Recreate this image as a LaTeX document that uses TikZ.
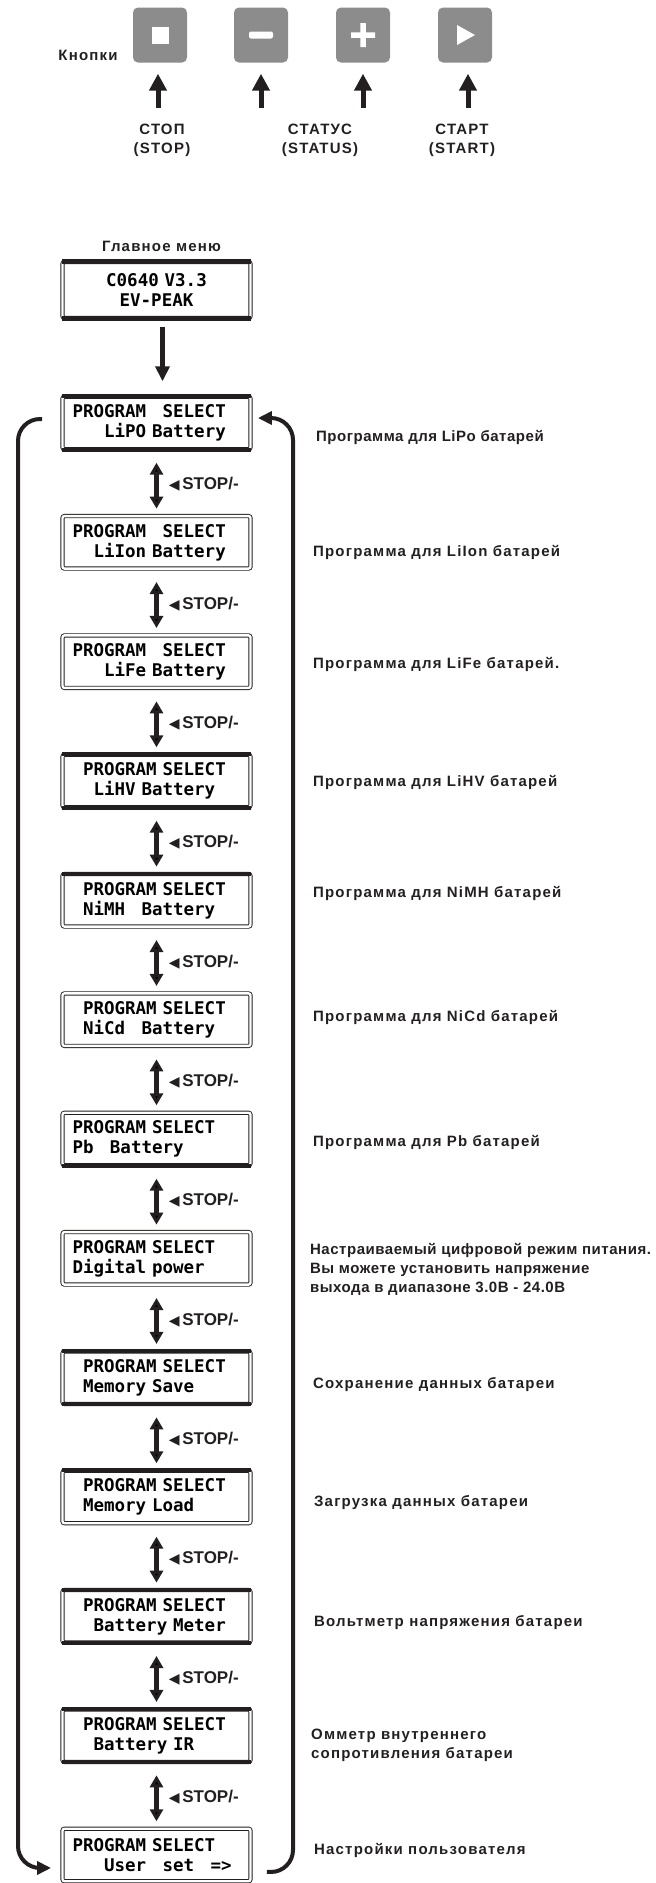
\documentclass[tikz,border=0pt]{standalone}
\usepackage{fontspec}
\setmainfont{Liberation Sans}
\newfontfamily\labelfont[LetterSpace=8]{Liberation Sans}
\newfontfamily\tightfont[LetterSpace=3.5]{Liberation Sans}
\newfontfamily\lcdfont{DejaVu Sans Mono}
\newfontfamily\symfont{DejaVu Sans}
\usetikzlibrary{arrows.meta,positioning}
\definecolor{btngray}{RGB}{140,140,140}
\definecolor{ink}{RGB}{35,31,32}
\newcommand{\stoptag}{{\symfont\fontsize{14}{14}\selectfont ◀}\,STOP/-}
\newcommand{\gap}{\phantom{X}}

\tikzset{
  btn/.style={fill=btngray, rounded corners=5pt, minimum width=54pt, minimum height=55pt, inner sep=0pt},
  btnarrow/.style={draw=ink, line width=5pt, -{Triangle[width=17pt,length=17pt]}},
  downarrow/.style={draw=ink, line width=4.5pt, -{Triangle[width=14pt,length=15pt]}},
  lcd/.style={draw=ink, double, double distance=2.4pt, line width=0.9pt, rounded corners=2pt,
    minimum width=188pt, minimum height=52.5pt, text width=168pt, align=left, inner sep=0pt,
    font=\lcdfont\bfseries\fontsize{17.5}{20}\selectfont},
  lcdbar/.style={draw=ink, line width=4.2pt},
  updown/.style={draw=ink, line width=4.5pt, {Triangle[width=13pt,length=12pt]}-{Triangle[width=13pt,length=12pt]},
    shorten <=13pt, shorten >=7pt},
  stoplbl/.style={anchor=west, xshift=10pt, yshift=-2pt, inner sep=0pt, text=ink,
    font=\bfseries\fontsize{17}{18}\selectfont},
  descr/.style={anchor=west, inner sep=0pt, align=left, text=ink,
    font=\labelfont\bfseries\fontsize{15}{19}\selectfont},
  tightdescr/.style={descr, font=\tightfont\bfseries\fontsize{15}{19}\selectfont},
  looparrow/.style={draw=ink, line width=4pt, rounded corners=22pt, -{Triangle[width=13pt,length=14pt]}},
}

\begin{document}
\begin{tikzpicture}[x=1pt,y=1pt,node distance=119.33pt]
\useasboundingbox (0,0) rectangle (656,-1883);

% buttons
\node[btn] (bstop)  at (160,-35) {};
\node[btn] (bminus) at (261,-35) {};
\node[btn] (bplus)  at (363,-35) {};
\node[btn] (bstart) at (465,-35) {};
\fill[white] ([shift={(-8.5,-8.5)}]bstop.center) rectangle ++(17,17);
\fill[white, rounded corners=2pt] ([shift={(-12,-3.5)}]bminus.center) rectangle ++(24,7);
\fill[white] ([shift={(-12,-2.75)}]bplus.center) rectangle ++(24,5.5)
  ([shift={(-2.75,-12)}]bplus.center) rectangle ++(5.5,24);
\fill[white] ([shift={(-8,-10)}]bstart.center) -- ++(18,10) -- ++(-18,10) -- cycle;

\node[descr, left=15pt of bstop, yshift=-20pt] (knopki) {Кнопки};

\draw[btnarrow] ([xshift=-2pt,yshift=-45pt]bstop.south) -- ([xshift=-2pt,yshift=-11pt]bstop.south);
\draw[btnarrow] ([yshift=-45pt]bminus.south) -- ([yshift=-11pt]bminus.south);
\draw[btnarrow] ([yshift=-45pt]bplus.south) -- ([yshift=-11pt]bplus.south);
\draw[btnarrow] ([xshift=3pt,yshift=-45pt]bstart.south) -- ([xshift=3pt,yshift=-11pt]bstart.south);

\node[descr, align=center, anchor=north] (lstop) at ([xshift=2pt,yshift=-61pt]bstop.south) {СТОП\\(STOP)};
\node[descr, align=center, anchor=north] (lstatus) at ([xshift=59pt,yshift=-61pt]bminus.south) {СТАТУС\\(STATUS)};
\node[descr, align=center, anchor=north] (lstart) at ([xshift=-3pt,yshift=-61pt]bstart.south) {СТАРТ\\(START)};

% main menu
\node[lcd, align=center, minimum height=56pt] (main) at (156.5,-290) {C0640 V3.3\\EV-PEAK};
\node[descr, above=10pt of main, xshift=5pt] (mainlbl) {Главное меню};

\node[lcd, node distance=133pt, below of=main] (lipo) {PROGRAM\gap{} SELECT\\\phantom{XXX}LiPO Battery};
\node[lcd, below of=lipo]      (liion)     {PROGRAM\gap{} SELECT\\\phantom{XX}LiIon Battery};
\node[lcd, below of=liion]     (life)      {PROGRAM\gap{} SELECT\\\phantom{XXX}LiFe Battery};
\node[lcd, below of=life]      (lihv)      {\gap{}PROGRAM SELECT\\\phantom{XX}LiHV Battery};
\node[lcd, below of=lihv]      (nimh)      {\gap{}PROGRAM SELECT\\\gap{}NiMH\gap{} Battery};
\node[lcd, below of=nimh]      (nicd)      {\gap{}PROGRAM SELECT\\\gap{}NiCd\gap{} Battery};
\node[lcd, below of=nicd]      (pb)        {PROGRAM SELECT\\Pb\gap{} Battery};
\node[lcd, below of=pb]        (digital)   {PROGRAM SELECT\\Digital power};
\node[lcd, below of=digital]   (memsave)   {\gap{}PROGRAM SELECT\\\gap{}Memory Save};
\node[lcd, below of=memsave]   (memload)   {\gap{}PROGRAM SELECT\\\gap{}Memory Load};
\node[lcd, below of=memload]   (battmeter) {\gap{}PROGRAM SELECT\\\phantom{XX}Battery Meter};
\node[lcd, below of=battmeter] (battir)    {\gap{}PROGRAM SELECT\\\phantom{XX}Battery IR};
\node[lcd, below of=battir]    (userset)   {PROGRAM SELECT\\\phantom{XXX}User\gap{} set\gap{} =>};

\path[lcdbar] (main.north west) edge (main.north east)
  (main.south west) edge (main.south east)
  (lipo.north west) edge (lipo.north east)
  (lipo.south west) edge (lipo.south east)
  (lihv.north west) edge (lihv.north east)
  (lihv.south west) edge (lihv.south east)
  (nimh.north west) edge (nimh.north east)
  (pb.south west) edge (pb.south east)
  (memsave.north west) edge (memsave.north east)
  (memsave.south west) edge (memsave.south east)
  (memload.north west) edge (memload.north east)
  (battmeter.north west) edge (battmeter.north east)
  (battmeter.south west) edge (battmeter.south east)
  (battir.north west) edge (battir.north east)
  (battir.south west) edge (battir.south east);

% descriptions
\node[tightdescr, right=65pt of lipo, yshift=-14pt] (dlipo)      {Программа для LiPo батарей};
\node[descr, right=62pt of liion, yshift=-10pt]     (dliion)     {Программа для LiIon батарей};
\node[descr, right=62pt of life, yshift=-3pt]       (dlife)      {Программа для LiFe батарей.};
\node[descr, right=62pt of lihv, yshift=-1pt]       (dlihv)      {Программа для LiHV батарей};
\node[descr, right=62pt of nimh, yshift=7pt]        (dnimh)      {Программа для NiMH батарей};
\node[descr, right=62pt of nicd, yshift=2pt]        (dnicd)      {Программа для NiCd батарей};
\node[descr, right=62pt of pb, yshift=-3pt]         (dpb)        {Программа для Pb батарей};
\node[tightdescr, right=59pt of digital, yshift=-11pt] (ddigital) {Настраиваемый цифровой режим питания.\\Вы можете установить напряжение\\выхода в диапазоне 3.0В - 24.0В};
\node[descr, right=62pt of memsave, yshift=-7pt]    (dmemsave)   {Сохранение данных батареи};
\node[descr, right=63pt of memload, yshift=-6pt]    (dmemload)   {Загрузка данных батареи};
\node[descr, right=63pt of battmeter, yshift=-6pt]  (dbattmeter) {Вольтметр напряжения батареи};
\node[descr, right=60pt of battir, yshift=-10pt]    (dbattir)    {Омметр внутреннего\\сопротивления батареи};
\node[descr, right=63pt of userset, yshift=5pt]     (duserset)   {Настройки пользователя};

% arrows
\draw[downarrow, shorten <=9pt, shorten >=15pt] ([xshift=6pt]main.south) -- ([xshift=6pt]lipo.north);

\path[updown] (lipo) edge node[stoplbl]{\stoptag} (liion)
  (liion) edge node[stoplbl]{\stoptag} (life)
  (life) edge node[stoplbl]{\stoptag} (lihv)
  (lihv) edge node[stoplbl]{\stoptag} (nimh)
  (nimh) edge node[stoplbl]{\stoptag} (nicd)
  (nicd) edge node[stoplbl]{\stoptag} (pb)
  (pb) edge node[stoplbl]{\stoptag} (digital)
  (digital) edge node[stoplbl]{\stoptag} (memsave)
  (memsave) edge node[stoplbl]{\stoptag} (memload)
  (memload) edge node[stoplbl]{\stoptag} (battmeter)
  (battmeter) edge node[stoplbl]{\stoptag} (battir)
  (battir) edge node[stoplbl]{\stoptag} (userset);

% wrap-around
\coordinate (railL) at (18,0);
\coordinate (railR) at (293,0);
\coordinate (tipL) at ([xshift=-11pt,yshift=-13pt]userset.west);
\coordinate (tipR) at ([xshift=7pt,yshift=5pt]lipo.east);
\draw[looparrow] ([xshift=-20pt,yshift=4pt]lipo.west) -| (railL |- tipL) -- (tipL);
\draw[looparrow] ([xshift=16pt,yshift=-17pt]userset.east) -| (railR |- tipR) -- (tipR);

\end{tikzpicture}
\end{document}
